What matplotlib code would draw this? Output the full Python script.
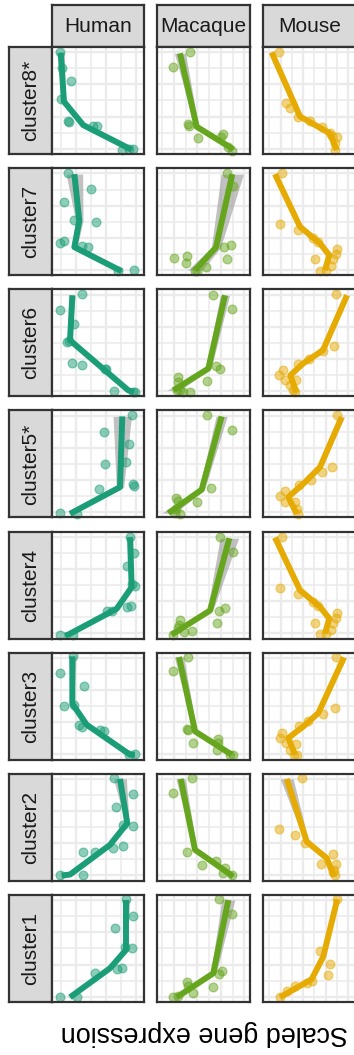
import numpy as np
import matplotlib.pyplot as plt

plt.rcParams['font.family'] = ['Liberation Sans', 'DejaVu Sans']

W, H = 354, 1055

species = ["Human", "Macaque", "Mouse"]
clusters = ["cluster8*", "cluster7", "cluster6", "cluster5*",
            "cluster4", "cluster3", "cluster2", "cluster1"]
colors = {"Human": "#1B9E77", "Macaque": "#66A61E", "Mouse": "#E6AB02"}

# observed points per cluster: (expression, time)
human_pts = {
    "cluster8*": ([0.087, 0.105, 0.207, 0.098, 0.177, 0.188, 0.442, 0.492, 0.757, 0.840, 0.884],
                  [0.05, 0.20, 0.315, 0.486, 0.689, 0.704, 0.735, 0.735, 0.963, 0.956, 0.956]),
    "cluster7": ([0.17, 0.42, 0.134, 0.239, 0.478, 0.087, 0.13, 0.33, 0.388, 0.72, 0.89],
                 [0.05, 0.199, 0.315, 0.486, 0.502, 0.704, 0.682, 0.729, 0.735, 0.96, 0.953]),
    "cluster6": ([0.323, 0.087, 0.243, 0.16, 0.188, 0.214, 0.329, 0.576, 0.587, 0.674, 0.884, 0.902],
                 [0.047, 0.196, 0.32, 0.492, 0.486, 0.685, 0.704, 0.741, 0.741, 0.953, 0.96, 0.96]),
    "cluster5*": ([0.866, 0.568, 0.84, 0.576, 0.80, 0.514, 0.884, 0.895, 0.087, 0.275],
                  [0.047, 0.203, 0.318, 0.505, 0.483, 0.738, 0.692, 0.707, 0.96, 0.972]),
    "cluster4": ([0.848, 0.895, 0.812, 0.866, 0.902, 0.812, 0.859, 0.594, 0.649, 0.087, 0.225],
                 [0.047, 0.199, 0.324, 0.489, 0.505, 0.707, 0.692, 0.738, 0.738, 0.963, 0.966]),
    "cluster3": ([0.232, 0.087, 0.351, 0.13, 0.243, 0.297, 0.323, 0.522, 0.565, 0.841, 0.902],
                 [0.034, 0.19, 0.308, 0.495, 0.486, 0.68, 0.694, 0.72, 0.729, 0.953, 0.947]),
    "cluster2": ([0.674, 0.877, 0.696, 0.768, 0.884, 0.333, 0.467, 0.666, 0.775, 0.087, 0.34],
                 [0.04, 0.19, 0.311, 0.477, 0.492, 0.732, 0.726, 0.694, 0.679, 0.95, 0.944]),
    "cluster1": ([0.804, 0.884, 0.685, 0.793, 0.866, 0.467, 0.703, 0.757, 0.087, 0.275],
                 [0.04, 0.193, 0.311, 0.483, 0.498, 0.732, 0.694, 0.685, 0.956, 0.956]),
}
macaque_pts = {
    "cluster8*": ([0.355, 0.175, 0.33, 0.344, 0.437, 0.706, 0.688, 0.767, 0.803],
                  [0.05, 0.184, 0.72, 0.738, 0.848, 0.816, 0.844, 0.932, 0.97]),
    "cluster7": ([0.749, 0.814, 0.72, 0.792, 0.749, 0.183, 0.319, 0.312, 0.409, 0.427, 0.523],
                 [0.05, 0.168, 0.741, 0.72, 0.853, 0.844, 0.82, 0.891, 0.96, 0.96, 0.928]),
    "cluster6": ([0.606, 0.803, 0.634, 0.677, 0.534, 0.229, 0.229, 0.212, 0.283, 0.355, 0.247],
                 [0.05, 0.187, 0.717, 0.741, 0.857, 0.82, 0.866, 0.944, 0.96, 0.96, 0.944]),
    "cluster5*": ([0.541, 0.81, 0.577, 0.204, 0.222, 0.433, 0.201, 0.194, 0.247],
                  [0.047, 0.187, 0.722, 0.82, 0.85, 0.857, 0.925, 0.956, 0.972]),
    "cluster4": ([0.677, 0.814, 0.731, 0.667, 0.642, 0.247, 0.24, 0.229, 0.176, 0.29, 0.373],
                 [0.047, 0.187, 0.713, 0.738, 0.853, 0.822, 0.869, 0.9, 0.963, 0.941, 0.925]),
    "cluster3": ([0.33, 0.175, 0.319, 0.337, 0.39, 0.652, 0.659, 0.642, 0.785, 0.814],
                 [0.04, 0.175, 0.71, 0.726, 0.844, 0.807, 0.844, 0.913, 0.953, 0.953]),
    "cluster2": ([0.373, 0.175, 0.326, 0.631, 0.487, 0.731, 0.706, 0.803],
                 [0.04, 0.175, 0.732, 0.813, 0.85, 0.881, 0.928, 0.95]),
    "cluster1": ([0.67, 0.81, 0.696, 0.667, 0.605, 0.319, 0.337, 0.384, 0.175, 0.229],
                 [0.04, 0.178, 0.707, 0.738, 0.857, 0.81, 0.85, 0.919, 0.956, 0.944]),
}
mouse_pts = {
    "cluster8*": ([0.175, 0.244, 0.29, 0.38, 0.505, 0.631, 0.72, 0.738, 0.792, 0.774, 0.774],
                  [0.05, 0.526, 0.573, 0.651, 0.689, 0.75, 0.807, 0.832, 0.844, 0.9, 0.963]),
    "cluster7": ([0.208, 0.183, 0.38, 0.534, 0.588, 0.792, 0.785, 0.756, 0.559, 0.731, 0.613, 0.674],
                 [0.05, 0.523, 0.579, 0.657, 0.694, 0.76, 0.807, 0.853, 0.85, 0.916, 0.96, 0.96]),
    "cluster6": ([0.785, 0.763, 0.648, 0.498, 0.38, 0.219, 0.175, 0.237, 0.355, 0.29, 0.326, 0.344],
                 [0.047, 0.53, 0.576, 0.654, 0.694, 0.757, 0.804, 0.844, 0.85, 0.897, 0.944, 0.96]),
    "cluster5*": ([0.792, 0.745, 0.638, 0.513, 0.387, 0.237, 0.183, 0.237, 0.344, 0.362, 0.373],
                  [0.047, 0.53, 0.576, 0.648, 0.701, 0.754, 0.804, 0.857, 0.857, 0.919, 0.966]),
    "cluster4": ([0.208, 0.183, 0.38, 0.534, 0.588, 0.792, 0.785, 0.756, 0.559, 0.731, 0.613, 0.674],
                 [0.05, 0.523, 0.579, 0.657, 0.694, 0.76, 0.807, 0.853, 0.85, 0.916, 0.96, 0.96]),
    "cluster3": ([0.785, 0.774, 0.648, 0.487, 0.39, 0.201, 0.183, 0.247, 0.355, 0.29, 0.333, 0.362],
                 [0.037, 0.517, 0.57, 0.642, 0.689, 0.75, 0.797, 0.844, 0.85, 0.907, 0.953, 0.953]),
    "cluster2": ([0.423, 0.175, 0.344, 0.452, 0.749, 0.62, 0.785, 0.749, 0.774, 0.763],
                 [0.04, 0.517, 0.57, 0.648, 0.75, 0.844, 0.844, 0.913, 0.944, 0.897]),
    "cluster1": ([0.799, 0.613, 0.72, 0.702, 0.523, 0.47, 0.344, 0.255, 0.183],
                 [0.04, 0.523, 0.645, 0.748, 0.801, 0.82, 0.85, 0.894, 0.956]),
}

# fitted trend per cluster: (expression, time, standard error)
human_fit = {
    "cluster8*": ([0.095, 0.13, 0.34, 0.866], [0.053, 0.51, 0.73, 0.96], [0.04, 0.015, 0.01, 0.015]),
    "cluster7": ([0.243, 0.297, 0.243, 0.757], [0.056, 0.492, 0.738, 0.963], [0.09, 0.04, 0.03, 0.02]),
    "cluster6": ([0.221, 0.196, 0.449, 0.829, 0.891], [0.056, 0.477, 0.664, 0.944, 0.96],
                 [0.03, 0.015, 0.01, 0.015, 0.02]),
    "cluster5*": ([0.764, 0.739, 0.196], [0.056, 0.717, 0.966], [0.1, 0.04, 0.02]),
    "cluster4": ([0.848, 0.866, 0.703, 0.177, 0.141], [0.053, 0.52, 0.722, 0.963, 0.972],
                 [0.03, 0.015, 0.015, 0.015, 0.02]),
    "cluster3": ([0.221, 0.221, 0.377, 0.848, 0.902], [0.034, 0.477, 0.673, 0.953, 0.953],
                 [0.04, 0.015, 0.01, 0.015, 0.02]),
    "cluster2": ([0.739, 0.818, 0.63, 0.196, 0.105], [0.047, 0.461, 0.664, 0.941, 0.95],
                 [0.07, 0.02, 0.02, 0.04, 0.04]),
    "cluster1": ([0.804, 0.804, 0.63, 0.196], [0.047, 0.514, 0.685, 0.956], [0.04, 0.015, 0.015, 0.02]),
}
macaque_fit = {
    "cluster8*": ([0.247, 0.427, 0.821], [0.059, 0.745, 0.956], [0.06, 0.02, 0.03]),
    "cluster7": ([0.81, 0.634, 0.409], [0.056, 0.741, 0.953], [0.12, 0.05, 0.08]),
    "cluster6": ([0.731, 0.552, 0.176], [0.056, 0.741, 0.944], [0.05, 0.03, 0.07]),
    "cluster5*": ([0.695, 0.48, 0.122], [0.056, 0.741, 0.96], [0.06, 0.03, 0.07]),
    "cluster4": ([0.778, 0.57, 0.158], [0.062, 0.738, 0.963], [0.1, 0.03, 0.03]),
    "cluster3": ([0.237, 0.409, 0.803], [0.04, 0.735, 0.953], [0.05, 0.02, 0.03]),
    "cluster2": ([0.255, 0.409, 0.82], [0.047, 0.71, 0.959], [0.05, 0.02, 0.03]),
    "cluster1": ([0.767, 0.605, 0.212], [0.047, 0.732, 0.956], [0.07, 0.03, 0.03]),
}
mouse_fit = {
    "cluster8*": ([0.093, 0.398, 0.72, 0.792], [0.05, 0.65, 0.807, 0.963], [0.02, 0.01, 0.01, 0.015]),
    "cluster7": ([0.129, 0.398, 0.613, 0.713, 0.667], [0.056, 0.548, 0.704, 0.813, 0.953],
                 [0.02, 0.015, 0.01, 0.015, 0.02]),
    "cluster6": ([0.903, 0.645, 0.43, 0.294, 0.358], [0.056, 0.57, 0.694, 0.804, 0.96],
                 [0.025, 0.015, 0.01, 0.01, 0.02]),
    "cluster5*": ([0.846, 0.613, 0.452, 0.272, 0.362], [0.062, 0.53, 0.67, 0.81, 0.966],
                  [0.03, 0.015, 0.01, 0.01, 0.02]),
    "cluster4": ([0.129, 0.398, 0.613, 0.713, 0.667], [0.056, 0.548, 0.704, 0.813, 0.953],
                 [0.02, 0.015, 0.01, 0.015, 0.02]),
    "cluster3": ([0.871, 0.595, 0.434, 0.272, 0.344], [0.044, 0.564, 0.689, 0.797, 0.953],
                 [0.025, 0.015, 0.01, 0.01, 0.02]),
    "cluster2": ([0.255, 0.47, 0.685, 0.763], [0.047, 0.633, 0.788, 0.959], [0.07, 0.02, 0.02, 0.02]),
    "cluster1": ([0.799, 0.648, 0.523, 0.183], [0.04, 0.576, 0.788, 0.956], [0.02, 0.015, 0.015, 0.02]),
}

points = {"Human": human_pts, "Macaque": macaque_pts, "Mouse": mouse_pts}
fits = {"Human": human_fit, "Macaque": macaque_fit, "Mouse": mouse_fit}

# layout in pixels
col_left = [52, 157, 263]
col_width = [92, 93, 93]
row_top0, row_step, row_h = 47, 121.14, 107
strip_top = 5
row_strip_left = 9
# vertical grid start/step per column (axes fraction)
vgrid = {"Human": (0.10, 0.163), "Macaque": (0.057, 0.126), "Mouse": (0.068, 0.121)}
hgrid = 0.05 + 0.15 * np.arange(7)

edge = "#333333"
strip_fill = "#D9D9D9"
text_col = "#1A1A1A"


def px_axes(fig, x0, y0, w, h):
    return fig.add_axes([x0 / W, 1 - (y0 + h) / H, w / W, h / H])


def style_box(ax, fill):
    ax.set_facecolor(fill)
    ax.set_xticks([])
    ax.set_yticks([])
    for s in ax.spines.values():
        s.set_color(edge)
        s.set_linewidth(1.6)


fig = plt.figure(figsize=(W / 100, H / 100), dpi=100)

for j, sp in enumerate(species):
    sax = px_axes(fig, col_left[j], strip_top, col_width[j], row_top0 - strip_top)
    style_box(sax, strip_fill)
    sax.text(0.5, 0.5, sp, ha="center", va="center", fontsize=15, color=text_col,
             transform=sax.transAxes)

for i, cl in enumerate(clusters):
    top = row_top0 + i * row_step
    rax = px_axes(fig, row_strip_left, top, col_left[0] - row_strip_left, row_h)
    style_box(rax, strip_fill)
    rax.text(0.5, 0.5, cl, ha="center", va="center", rotation=90, fontsize=15,
             color=text_col, transform=rax.transAxes)

    for j, sp in enumerate(species):
        ax = px_axes(fig, col_left[j], top, col_width[j], row_h)
        ax.set_facecolor("white")
        ax.set_xlim(0, 1)
        ax.set_ylim(1, 0)
        ax.set_xticks([])
        ax.set_yticks([])
        for s in ax.spines.values():
            s.set_color(edge)
            s.set_linewidth(1.6)
            s.set_zorder(6)

        g0, gs = vgrid[sp]
        for k, gx in enumerate(np.arange(g0, 1.0, gs)):
            ax.axvline(gx, color="#EBEBEB", lw=1.7 if k % 2 else 1.1, zorder=0)
        for k, gy in enumerate(hgrid):
            ax.axhline(gy, color="#EBEBEB", lw=1.7 if k % 2 == 0 else 1.1, zorder=0)

        fx, fy, se = (np.array(v) for v in fits[sp][cl])
        ax.fill_betweenx(fy, fx - se, fx + se, color="#999999", alpha=0.6, lw=0, zorder=2)
        ax.plot(fx, fy, color=colors[sp], lw=4.3, solid_capstyle="butt",
                solid_joinstyle="round", zorder=3)

        px, py = points[sp][cl]
        ax.scatter(px, py, s=40, color=colors[sp], alpha=0.5, edgecolors=colors[sp],
                   linewidths=0.9, zorder=4, clip_on=False)

fig.text(204 / W, 1 - 1033 / H, "Scaled gene expression", rotation=180,
         ha="center", va="center", fontsize=19.4, color="black")

fig.savefig("out.png", dpi=100)
